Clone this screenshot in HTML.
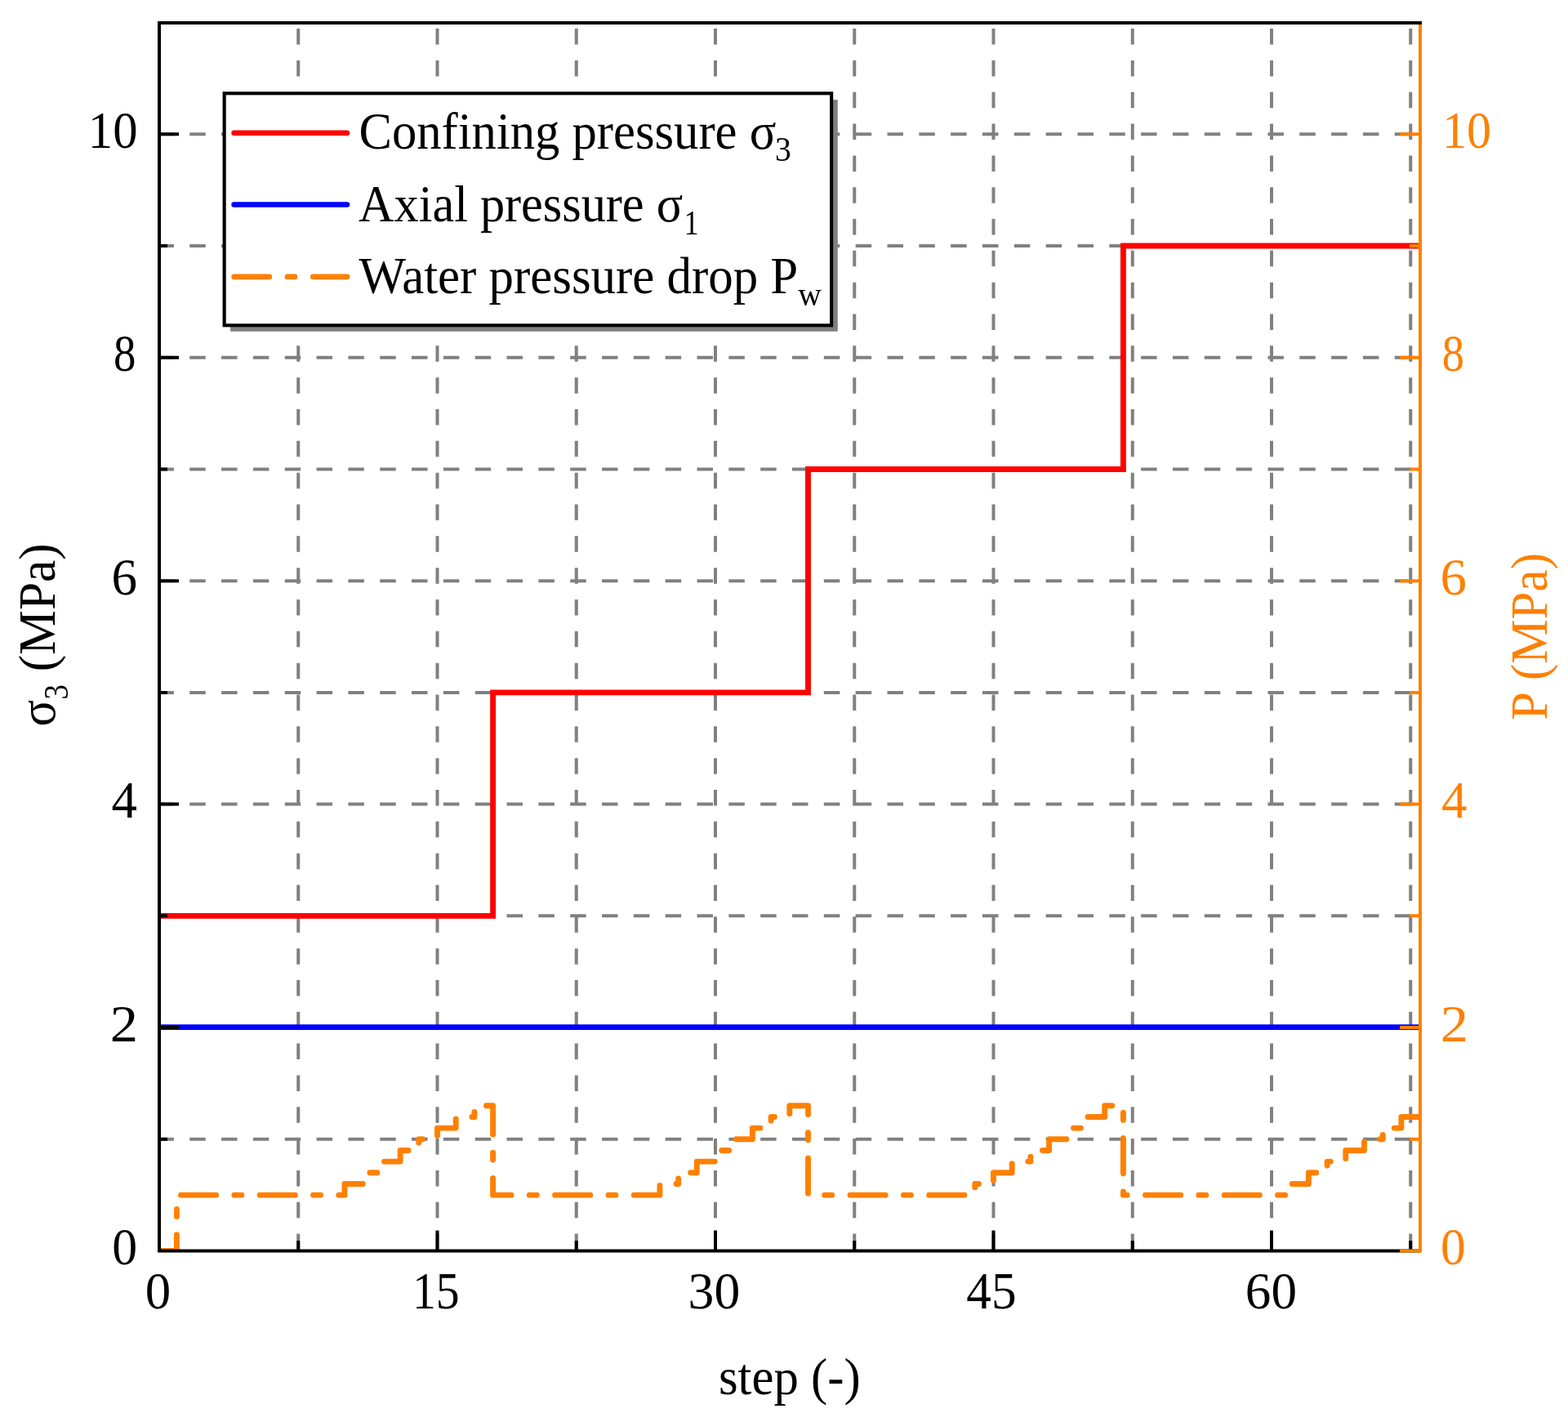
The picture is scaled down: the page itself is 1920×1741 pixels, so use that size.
<!DOCTYPE html>
<html><head><meta charset="utf-8"><title>chart</title>
<style>html,body{margin:0;padding:0;background:#fff;overflow:hidden;}svg{display:block;}</style>
</head><body>
<svg width="1920" height="1741" viewBox="0 0 1920 1741">
<rect x="0" y="0" width="1920" height="1741" fill="#fff"/>
<path d="M365.25 1530.1V28 M535.50 1530.1V28 M705.75 1530.1V28 M876.00 1530.1V28 M1046.25 1530.1V28 M1216.50 1530.1V28 M1386.75 1530.1V28 M1557.00 1530.1V28 M1727.25 1530.1V28 M193.4 1394.78H1739 M193.4 1258.06H1739 M193.4 1121.34H1739 M193.4 984.62H1739 M193.4 847.90H1739 M193.4 711.18H1739 M193.4 574.46H1739 M193.4 437.74H1739 M193.4 301.02H1739 M193.4 164.30H1739" stroke="#808080" stroke-width="4" stroke-dasharray="19.5 19.33" fill="none"/>
<defs><clipPath id="pa"><rect x="195" y="28" width="1544" height="1503.5"/></clipPath></defs>
<g clip-path="url(#pa)">
<path d="M195 1257.66H1738.60" stroke="#0000FF" stroke-width="6.9" fill="none"/>
<path d="M195.00 1121.34 L603.60 1121.34 L603.60 847.90 L989.50 847.90 L989.50 574.46 L1375.40 574.46 L1375.40 301.02 L1738.60 301.02" stroke="#FF0000" stroke-width="6.9" fill="none" stroke-linejoin="miter"/>
<path d="M193.1 1531.50 H216.40 V1463.14 H240.40 H263.10 H285.80 H308.50 H331.20 H353.90 H376.60 H399.30 H422.00 V1449.47 H444.70 V1435.80 H467.40 V1422.12 H490.10 V1408.45 H512.80 V1394.78 H535.50 V1381.11 H558.20 V1367.44 H580.90 V1353.76 H603.60 V1463.14 H626.30 H649.00 H671.70 H694.40 H717.10 H739.80 H762.50 H785.20 H807.90 V1449.47 H830.60 V1435.80 H853.30 V1422.12 H876.00 V1408.45 H898.70 V1394.78 H921.40 V1381.11 H944.10 V1367.44 H966.80 V1353.76 H989.50 V1463.14 H1012.20 H1034.90 H1057.60 H1080.30 H1103.00 H1125.70 H1148.40 H1171.10 H1193.80 V1449.47 H1216.50 V1435.80 H1239.20 V1422.12 H1261.90 V1408.45 H1284.60 V1394.78 H1307.30 V1381.11 H1330.00 V1367.44 H1352.70 V1353.76 H1375.40 V1463.14 H1398.10 H1420.80 H1443.50 H1466.20 H1488.90 H1511.60 H1534.30 H1557.00 H1579.70 V1449.47 H1602.40 V1435.80 H1625.10 V1422.12 H1647.80 V1408.45 H1670.50 V1394.78 H1693.20 V1381.11 H1715.90 V1367.44 H1738.60" stroke="#FF8000" stroke-width="6.9" fill="none" stroke-linecap="round" stroke-linejoin="round" stroke-dasharray="43.2 22.2 9 22.3"/>
</g>
<path d="M195 26V1533.5 M193 28H1741 M193 1531.5H1739 M195 1531.50H219 M195 1258.06H219 M195 984.62H219 M195 711.18H219 M195 437.74H219 M195 164.30H219 M195 1394.78H205 M195 1121.34H205 M195 847.90H205 M195 574.46H205 M195 301.02H205 M195.00 1531.5V1506.5 M535.50 1531.5V1506.5 M876.00 1531.5V1506.5 M1216.50 1531.5V1506.5 M1557.00 1531.5V1506.5 M365.25 1531.5V1519 M705.75 1531.5V1519 M1046.25 1531.5V1519 M1386.75 1531.5V1519 M1727.25 1531.5V1519" stroke="#000" stroke-width="4" fill="none"/>
<path d="M1739 30V1533.5 M1739 1531.50H1714 M1739 1258.06H1714 M1739 984.62H1714 M1739 711.18H1714 M1739 437.74H1714 M1739 164.30H1714 M1739 1394.78H1726 M1739 1121.34H1726 M1739 847.90H1726 M1739 574.46H1726 M1739 301.02H1726" stroke="#FF8000" stroke-width="4" fill="none"/>
<text transform="translate(107.86 180.80) scale(0.9474 1)" font-family="Liberation Serif, 'Times New Roman', serif" font-size="64">10</text>
<text transform="translate(138.89 454.24) scale(0.8571 1)" font-family="Liberation Serif, 'Times New Roman', serif" font-size="64">8</text>
<text transform="translate(136.44 727.68) scale(0.9852 1)" font-family="Liberation Serif, 'Times New Roman', serif" font-size="64">6</text>
<text transform="translate(136.42 1001.12) scale(0.9833 1)" font-family="Liberation Serif, 'Times New Roman', serif" font-size="64">4</text>
<text transform="translate(134.69 1274.56) scale(1.0692 1)" font-family="Liberation Serif, 'Times New Roman', serif" font-size="64">2</text>
<text transform="translate(137.27 1548.00) scale(0.9661 1)" font-family="Liberation Serif, 'Times New Roman', serif" font-size="64">0</text>
<text transform="translate(1766.01 180.80) scale(0.9386 1)" font-family="Liberation Serif, 'Times New Roman', serif" font-size="64" fill="#FF8000">10</text>
<text transform="translate(1765.80 454.24) scale(0.8500 1)" font-family="Liberation Serif, 'Times New Roman', serif" font-size="64" fill="#FF8000">8</text>
<text transform="translate(1763.47 727.68) scale(1.0111 1)" font-family="Liberation Serif, 'Times New Roman', serif" font-size="64" fill="#FF8000">6</text>
<text transform="translate(1765.02 1001.12) scale(0.9833 1)" font-family="Liberation Serif, 'Times New Roman', serif" font-size="64" fill="#FF8000">4</text>
<text transform="translate(1763.79 1274.56) scale(1.0692 1)" font-family="Liberation Serif, 'Times New Roman', serif" font-size="64" fill="#FF8000">2</text>
<text transform="translate(1764.08 1548.00) scale(0.9607 1)" font-family="Liberation Serif, 'Times New Roman', serif" font-size="64" fill="#FF8000">0</text>
<text transform="translate(177.64 1602.00) scale(0.9821 1)" font-family="Liberation Serif, 'Times New Roman', serif" font-size="64">0</text>
<text transform="translate(504.99 1602.00) scale(0.9018 1)" font-family="Liberation Serif, 'Times New Roman', serif" font-size="64">15</text>
<text transform="translate(842.62 1602.00) scale(0.9932 1)" font-family="Liberation Serif, 'Times New Roman', serif" font-size="64">30</text>
<text transform="translate(1183.34 1602.00) scale(0.9574 1)" font-family="Liberation Serif, 'Times New Roman', serif" font-size="64">45</text>
<text transform="translate(1524.84 1602.00) scale(0.9864 1)" font-family="Liberation Serif, 'Times New Roman', serif" font-size="64">60</text>
<text transform="translate(879.90 1706.50) scale(0.9494 1)" font-family="Liberation Serif, 'Times New Roman', serif" font-size="64">step (-)</text>
<text transform="translate(66.90 889.39) rotate(-90) scale(0.9469 1)" font-family="Liberation Serif, 'Times New Roman', serif" font-size="64">σ</text>
<text transform="translate(82.60 856.57) rotate(-90) scale(0.8833 1)" font-family="Liberation Serif, 'Times New Roman', serif" font-size="42">3</text>
<text transform="translate(66.90 822.18) rotate(-90) scale(0.9601 1)" font-family="Liberation Serif, 'Times New Roman', serif" font-size="64">(MPa)</text>
<text transform="translate(1894.10 881.75) rotate(-90) scale(0.9774 1)" font-family="Liberation Serif, 'Times New Roman', serif" font-size="64" fill="#FF8000">P</text>
<text transform="translate(1894.10 833.07) rotate(-90) scale(0.9551 1)" font-family="Liberation Serif, 'Times New Roman', serif" font-size="64" fill="#FF8000">(MPa)</text>
<rect x="282.1" y="122.1" width="743.7" height="283.7" fill="#808080"/>
<rect x="274.65" y="114.3" width="743.5" height="284.05" fill="#fff" stroke="#000" stroke-width="4.1"/>
<path d="M286.6 162.8H425" stroke="#FF0000" stroke-width="6.6" stroke-linecap="round"/>
<path d="M286.6 250.5H425" stroke="#0000FF" stroke-width="6.6" stroke-linecap="round"/>
<path d="M286.6 338.9H425" stroke="#FF8000" stroke-width="6.6" stroke-linecap="round" stroke-dasharray="43.2 22.2 9 22.3"/>
<text transform="translate(439.51 182.20) scale(0.9474 1)" font-family="Liberation Serif, 'Times New Roman', serif" font-size="64">Confining pressure σ</text>
<text transform="translate(949.11 197.20) scale(0.9444 1)" font-family="Liberation Serif, 'Times New Roman', serif" font-size="42">3</text>
<text transform="translate(439.10 270.80) scale(0.9413 1)" font-family="Liberation Serif, 'Times New Roman', serif" font-size="64">Axial pressure σ</text>
<text transform="translate(837.66 286.60) scale(0.8469 1)" font-family="Liberation Serif, 'Times New Roman', serif" font-size="42">1</text>
<text transform="translate(439.60 358.90) scale(0.9510 1)" font-family="Liberation Serif, 'Times New Roman', serif" font-size="64">Water pressure drop P</text>
<text transform="translate(977.25 374.20) scale(0.9450 1)" font-family="Liberation Serif, 'Times New Roman', serif" font-size="42">w</text>
</svg>
</body></html>
